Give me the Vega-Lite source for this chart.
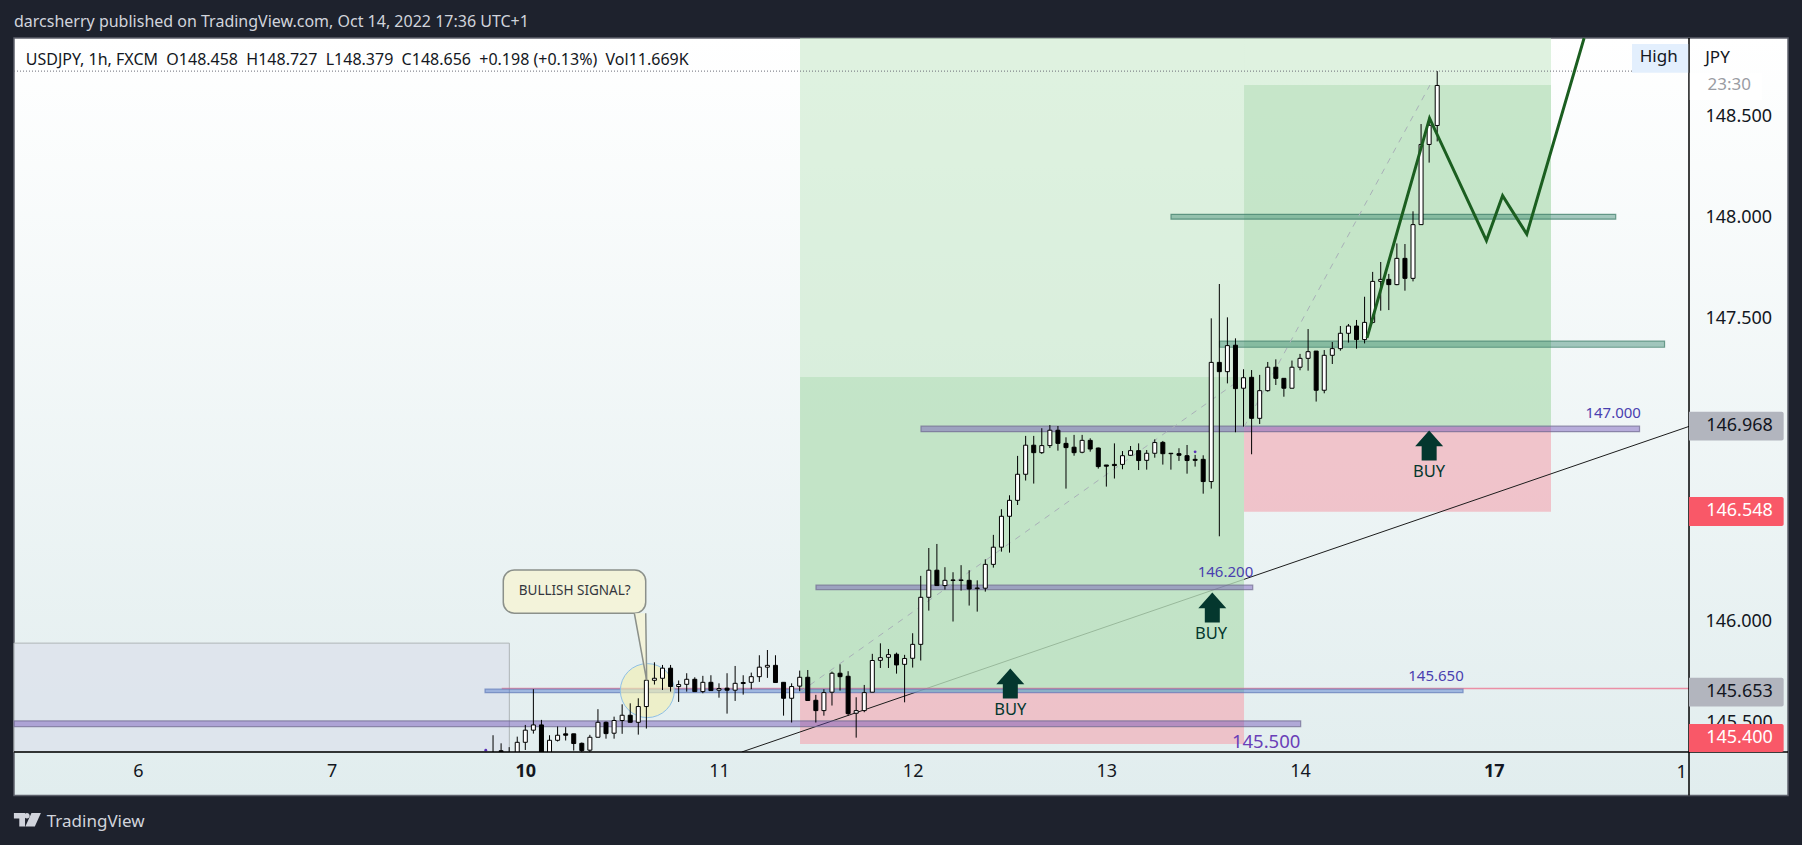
{
  "$schema": "https://vega.github.io/schema/vega-lite/v6.json",
  "width": 1675,
  "height": 714,
  "autosize": "none",
  "padding": {"left": 14, "top": 38, "right": 113, "bottom": 93},
  "background": "#1e222d",
  "config": {"font": "Noto Sans", "view": {"stroke": null}},
  "datasets": {
    "pane": [{"bar": -63.36, "bar2": 156.47, "price": 148.891, "price2": 145.141}],
    "old_range": [{"bar": -63.36, "bar2": -1.98, "price": 145.895, "price2": 145.356}],
    "stops": [
      {"bar": 34.04, "bar2": 89.06, "price": 145.653, "price2": 145.396},
      {"bar": 89.06, "bar2": 127.1, "price": 146.965, "price2": 146.545}
    ],
    "trend": [{"bar": 26.82, "price": 145.356}, {"bar": 144.2, "price": 146.968}],
    "targets_far": [
      {"bar": 34.04, "bar2": 89.06, "price": 148.891, "price2": 147.213},
      {"bar": 89.06, "bar2": 127.1, "price": 148.891, "price2": 148.658}
    ],
    "targets": [
      {"bar": 34.04, "bar2": 89.06, "price": 147.213, "price2": 145.653},
      {"bar": 89.06, "bar2": 127.1, "price": 148.658, "price2": 146.965}
    ],
    "price_lines": [{"bar": -2.92, "bar2": 144.2, "price": 145.67}],
    "levels": [
      {"kind": "blue", "bar": -4.99, "bar2": 116.2, "price": 145.667, "price2": 145.65},
      {"kind": "purple", "bar": -63.36, "bar2": 96.08, "price": 145.51, "price2": 145.482},
      {"kind": "purple", "bar": 36.02, "bar2": 90.14, "price": 146.182, "price2": 146.16},
      {"kind": "purple", "bar": 49.03, "bar2": 138.07, "price": 146.969, "price2": 146.942},
      {"kind": "teal", "bar": 80.01, "bar2": 135.12, "price": 148.018, "price2": 147.994},
      {"kind": "teal", "bar": 86.03, "bar2": 141.17, "price": 147.39, "price2": 147.36}
    ],
    "high_line": [{"bar": -63.36, "bar2": 137.14, "price": 148.727}],
    "diagonals": [
      {"id": "a", "bar": 34.04, "price": 145.653},
      {"id": "a", "bar": 89.06, "price": 147.213},
      {"id": "b", "bar": 89.06, "price": 146.965},
      {"id": "b", "bar": 112.1, "price": 148.658}
    ],
    "signal": [{"bar": 15.12, "price": 145.66}],
    "forecast": [
      {"bar": 104.3, "price": 147.406},
      {"bar": 112.05, "price": 148.494},
      {"bar": 119.1, "price": 147.888},
      {"bar": 121.1, "price": 148.11},
      {"bar": 124.1, "price": 147.92},
      {"bar": 131.2, "price": 148.89}
    ],
    "callout": [{"bar": -2.73, "bar2": 14.92, "price": 146.257, "price2": 146.043}],
    "callout_tail": [
      {"n": 1, "bar": 13.51, "price": 146.043},
      {"n": 2, "bar": 15.04, "price": 145.709},
      {"n": 3, "bar": 14.92, "price": 146.043}
    ],
    "buy_arrows": [
      {"bar": 60.1, "price": 145.695},
      {"bar": 85.13, "price": 146.072},
      {"bar": 112.0, "price": 146.874}
    ],
    "buy_labels": [
      {"bar": 60.1, "price": 145.564, "text": "BUY"},
      {"bar": 84.97, "price": 145.941, "text": "BUY"},
      {"bar": 112.0, "price": 146.743, "text": "BUY"}
    ],
    "level_labels": [
      {"bar": 86.76, "price": 146.249, "text": "146.200"},
      {"bar": 112.85, "price": 145.733, "text": "145.650"},
      {"bar": 134.8, "price": 147.036, "text": "147.000"}
    ],
    "purple_dots": [{"bar": -4.9, "price": 145.365}, {"bar": 83.0, "price": 146.842}],
    "candles": [
      {"bar": -4, "price": 145.439, "price2": 145.3, "open": 145.32, "close": 145.34},
      {"bar": -3, "price": 145.399, "price2": 145.3, "open": 145.362, "close": 145.358},
      {"bar": -2, "price": 145.38, "price2": 145.3, "open": 145.33, "close": 145.34},
      {"bar": -1, "price": 145.432, "price2": 145.3, "open": 145.33, "close": 145.404},
      {"bar": 0, "price": 145.49, "price2": 145.366, "open": 145.404, "close": 145.464},
      {"bar": 1, "price": 145.667, "price2": 145.447, "open": 145.464, "close": 145.49},
      {"bar": 2, "price": 145.515, "price2": 145.3, "open": 145.49, "close": 145.33},
      {"bar": 3, "price": 145.439, "price2": 145.3, "open": 145.33, "close": 145.414},
      {"bar": 4, "price": 145.482, "price2": 145.408, "open": 145.414, "close": 145.439},
      {"bar": 5, "price": 145.479, "price2": 145.413, "open": 145.446, "close": 145.439},
      {"bar": 6, "price": 145.446, "price2": 145.363, "open": 145.446, "close": 145.398},
      {"bar": 7, "price": 145.403, "price2": 145.34, "open": 145.399, "close": 145.363},
      {"bar": 8, "price": 145.441, "price2": 145.34, "open": 145.365, "close": 145.429},
      {"bar": 9, "price": 145.568, "price2": 145.429, "open": 145.429, "close": 145.503},
      {"bar": 10, "price": 145.507, "price2": 145.422, "open": 145.503, "close": 145.447},
      {"bar": 11, "price": 145.531, "price2": 145.422, "open": 145.449, "close": 145.512},
      {"bar": 12, "price": 145.592, "price2": 145.446, "open": 145.512, "close": 145.538},
      {"bar": 13, "price": 145.597, "price2": 145.503, "open": 145.538, "close": 145.503},
      {"bar": 14, "price": 145.622, "price2": 145.442, "open": 145.503, "close": 145.581},
      {"bar": 15, "price": 145.759, "price2": 145.472, "open": 145.581, "close": 145.711},
      {"bar": 16, "price": 145.8, "price2": 145.69, "open": 145.711, "close": 145.721},
      {"bar": 17, "price": 145.787, "price2": 145.663, "open": 145.721, "close": 145.771},
      {"bar": 18, "price": 145.787, "price2": 145.655, "open": 145.771, "close": 145.68},
      {"bar": 19, "price": 145.71, "price2": 145.604, "open": 145.68, "close": 145.69},
      {"bar": 20, "price": 145.746, "price2": 145.655, "open": 145.691, "close": 145.716},
      {"bar": 21, "price": 145.726, "price2": 145.655, "open": 145.716, "close": 145.655},
      {"bar": 22, "price": 145.733, "price2": 145.647, "open": 145.655, "close": 145.701},
      {"bar": 23, "price": 145.736, "price2": 145.66, "open": 145.701, "close": 145.66},
      {"bar": 24, "price": 145.696, "price2": 145.625, "open": 145.662, "close": 145.67},
      {"bar": 25, "price": 145.746, "price2": 145.546, "open": 145.672, "close": 145.662},
      {"bar": 26, "price": 145.782, "price2": 145.609, "open": 145.662, "close": 145.696},
      {"bar": 27, "price": 145.736, "price2": 145.64, "open": 145.7, "close": 145.695},
      {"bar": 28, "price": 145.749, "price2": 145.667, "open": 145.701, "close": 145.729},
      {"bar": 29, "price": 145.835, "price2": 145.703, "open": 145.729, "close": 145.776},
      {"bar": 30, "price": 145.861, "price2": 145.723, "open": 145.776, "close": 145.785},
      {"bar": 31, "price": 145.835, "price2": 145.7, "open": 145.785, "close": 145.7},
      {"bar": 32, "price": 145.701, "price2": 145.536, "open": 145.701, "close": 145.622},
      {"bar": 33, "price": 145.696, "price2": 145.502, "open": 145.622, "close": 145.68},
      {"bar": 34, "price": 145.759, "price2": 145.657, "open": 145.682, "close": 145.726},
      {"bar": 35, "price": 145.762, "price2": 145.611, "open": 145.726, "close": 145.611},
      {"bar": 36, "price": 145.639, "price2": 145.502, "open": 145.612, "close": 145.561},
      {"bar": 37, "price": 145.667, "price2": 145.536, "open": 145.561, "close": 145.65},
      {"bar": 38, "price": 145.754, "price2": 145.586, "open": 145.652, "close": 145.746},
      {"bar": 39, "price": 145.79, "price2": 145.66, "open": 145.746, "close": 145.729},
      {"bar": 40, "price": 145.756, "price2": 145.536, "open": 145.731, "close": 145.546},
      {"bar": 41, "price": 145.627, "price2": 145.427, "open": 145.548, "close": 145.561},
      {"bar": 42, "price": 145.688, "price2": 145.553, "open": 145.561, "close": 145.65},
      {"bar": 43, "price": 145.842, "price2": 145.652, "open": 145.652, "close": 145.809},
      {"bar": 44, "price": 145.894, "price2": 145.772, "open": 145.81, "close": 145.823},
      {"bar": 45, "price": 145.866, "price2": 145.772, "open": 145.825, "close": 145.838},
      {"bar": 46, "price": 145.848, "price2": 145.744, "open": 145.84, "close": 145.787},
      {"bar": 47, "price": 145.837, "price2": 145.602, "open": 145.79, "close": 145.819},
      {"bar": 48, "price": 145.944, "price2": 145.774, "open": 145.82, "close": 145.889},
      {"bar": 49, "price": 146.228, "price2": 145.809, "open": 145.889, "close": 146.122},
      {"bar": 50, "price": 146.366, "price2": 146.056, "open": 146.122, "close": 146.256},
      {"bar": 51, "price": 146.386, "price2": 146.18, "open": 146.256, "close": 146.18},
      {"bar": 52, "price": 146.271, "price2": 146.16, "open": 146.18, "close": 146.206},
      {"bar": 53, "price": 146.246, "price2": 146.002, "open": 146.205, "close": 146.208},
      {"bar": 54, "price": 146.281, "price2": 146.155, "open": 146.205, "close": 146.208},
      {"bar": 55, "price": 146.256, "price2": 146.081, "open": 146.206, "close": 146.163},
      {"bar": 56, "price": 146.206, "price2": 146.051, "open": 146.165, "close": 146.168},
      {"bar": 57, "price": 146.31, "price2": 146.15, "open": 146.167, "close": 146.285},
      {"bar": 58, "price": 146.431, "price2": 146.269, "open": 146.285, "close": 146.37},
      {"bar": 59, "price": 146.558, "price2": 146.348, "open": 146.37, "close": 146.523},
      {"bar": 60, "price": 146.627, "price2": 146.343, "open": 146.523, "close": 146.602},
      {"bar": 61, "price": 146.822, "price2": 146.579, "open": 146.602, "close": 146.731},
      {"bar": 62, "price": 146.921, "price2": 146.7, "open": 146.731, "close": 146.875},
      {"bar": 63, "price": 146.921, "price2": 146.685, "open": 146.875, "close": 146.838},
      {"bar": 64, "price": 146.959, "price2": 146.832, "open": 146.838, "close": 146.873},
      {"bar": 65, "price": 146.975, "price2": 146.861, "open": 146.873, "close": 146.949},
      {"bar": 66, "price": 146.97, "price2": 146.848, "open": 146.949, "close": 146.884},
      {"bar": 67, "price": 146.914, "price2": 146.66, "open": 146.884, "close": 146.863},
      {"bar": 68, "price": 146.926, "price2": 146.823, "open": 146.865, "close": 146.838},
      {"bar": 69, "price": 146.926, "price2": 146.835, "open": 146.84, "close": 146.899},
      {"bar": 70, "price": 146.909, "price2": 146.843, "open": 146.899, "close": 146.856},
      {"bar": 71, "price": 146.863, "price2": 146.759, "open": 146.861, "close": 146.769},
      {"bar": 72, "price": 146.777, "price2": 146.67, "open": 146.777, "close": 146.771},
      {"bar": 73, "price": 146.884, "price2": 146.71, "open": 146.78, "close": 146.774},
      {"bar": 74, "price": 146.846, "price2": 146.756, "open": 146.78, "close": 146.823},
      {"bar": 75, "price": 146.871, "price2": 146.822, "open": 146.825, "close": 146.848},
      {"bar": 76, "price": 146.884, "price2": 146.752, "open": 146.848, "close": 146.799},
      {"bar": 77, "price": 146.851, "price2": 146.754, "open": 146.8, "close": 146.835},
      {"bar": 78, "price": 146.904, "price2": 146.813, "open": 146.835, "close": 146.888},
      {"bar": 79, "price": 146.896, "price2": 146.779, "open": 146.889, "close": 146.833},
      {"bar": 80, "price": 146.835, "price2": 146.754, "open": 146.835, "close": 146.833},
      {"bar": 81, "price": 146.86, "price2": 146.797, "open": 146.833, "close": 146.825},
      {"bar": 82, "price": 146.876, "price2": 146.734, "open": 146.823, "close": 146.799},
      {"bar": 83, "price": 146.827, "price2": 146.769, "open": 146.805, "close": 146.8},
      {"bar": 84, "price": 146.825, "price2": 146.635, "open": 146.805, "close": 146.695},
      {"bar": 85, "price": 147.503, "price2": 146.66, "open": 146.695, "close": 147.285},
      {"bar": 86, "price": 147.673, "price2": 146.424, "open": 147.285, "close": 147.239},
      {"bar": 87, "price": 147.508, "price2": 147.181, "open": 147.239, "close": 147.368},
      {"bar": 88, "price": 147.404, "price2": 146.939, "open": 147.37, "close": 147.155},
      {"bar": 89, "price": 147.251, "price2": 146.967, "open": 147.157, "close": 147.209},
      {"bar": 90, "price": 147.247, "price2": 146.83, "open": 147.211, "close": 147.008},
      {"bar": 91, "price": 147.223, "price2": 146.98, "open": 147.008, "close": 147.145},
      {"bar": 92, "price": 147.287, "price2": 147.14, "open": 147.145, "close": 147.261},
      {"bar": 93, "price": 147.3, "price2": 147.173, "open": 147.261, "close": 147.206},
      {"bar": 94, "price": 147.206, "price2": 147.115, "open": 147.206, "close": 147.157},
      {"bar": 95, "price": 147.294, "price2": 147.157, "open": 147.157, "close": 147.261},
      {"bar": 96, "price": 147.327, "price2": 147.246, "open": 147.261, "close": 147.305},
      {"bar": 97, "price": 147.45, "price2": 147.244, "open": 147.305, "close": 147.338},
      {"bar": 98, "price": 147.341, "price2": 147.091, "open": 147.341, "close": 147.147},
      {"bar": 99, "price": 147.346, "price2": 147.132, "open": 147.147, "close": 147.32},
      {"bar": 100, "price": 147.386, "price2": 147.277, "open": 147.32, "close": 147.353},
      {"bar": 101, "price": 147.465, "price2": 147.343, "open": 147.353, "close": 147.429},
      {"bar": 102, "price": 147.475, "price2": 147.383, "open": 147.429, "close": 147.465},
      {"bar": 103, "price": 147.495, "price2": 147.353, "open": 147.465, "close": 147.398},
      {"bar": 104, "price": 147.61, "price2": 147.379, "open": 147.398, "close": 147.483},
      {"bar": 105, "price": 147.733, "price2": 147.478, "open": 147.483, "close": 147.686},
      {"bar": 106, "price": 147.782, "price2": 147.541, "open": 147.686, "close": 147.696},
      {"bar": 107, "price": 147.723, "price2": 147.544, "open": 147.696, "close": 147.67},
      {"bar": 108, "price": 147.874, "price2": 147.667, "open": 147.67, "close": 147.8},
      {"bar": 109, "price": 147.871, "price2": 147.64, "open": 147.8, "close": 147.701},
      {"bar": 110, "price": 148.033, "price2": 147.686, "open": 147.701, "close": 147.967},
      {"bar": 111, "price": 148.465, "price2": 147.967, "open": 147.967, "close": 148.364},
      {"bar": 112, "price": 148.498, "price2": 148.274, "open": 148.364, "close": 148.459},
      {"bar": 113, "price": 148.727, "price2": 148.379, "open": 148.458, "close": 148.656}
    ],
    "tags_gray": [
      {"bar": 144.2, "bar2": 155.93, "price": 147.04, "price2": 146.898},
      {"bar": 144.2, "bar2": 155.93, "price": 145.723, "price2": 145.581}
    ],
    "tags_red": [
      {"bar": 144.2, "bar2": 155.93, "price": 146.619, "price2": 146.475},
      {"bar": 144.2, "bar2": 155.93, "price": 145.495, "price2": 145.356}
    ],
    "tag_text_gray": [
      {"bar": 150.46, "price": 146.968, "text": "146.968"},
      {"bar": 150.46, "price": 145.653, "text": "145.653"}
    ],
    "tag_text_red": [
      {"bar": 150.46, "price": 146.55, "text": "146.548"},
      {"bar": 150.46, "price": 145.427, "text": "145.400"}
    ],
    "covered_ticks": [
      {"bar": 150.46, "price": 146.5, "text": "146.500"},
      {"bar": 150.46, "price": 145.5, "text": "145.500"}
    ]
  },
  "encoding": {
    "x": {
      "field": "bar",
      "type": "quantitative",
      "scale": {"domain": [-63.36, 144.2], "nice": false, "zero": false, "padding": 0},
      "axis": {
        "title": null,
        "orient": "bottom",
        "values": [-48, -24, 0, 24, 48, 72, 96, 120],
        "labelExpr": "['6','7','10','11','12','13','14','17'][(datum.value+48)/24]",
        "labelFontSize": 18,
        "labelColor": "#131722",
        "labelPadding": 10,
        "labelFontWeight": {"condition": {"test": "datum.value == 0 || datum.value == 120", "value": "bold"}, "value": "normal"},
        "labelOverlap": false,
        "grid": false,
        "ticks": false,
        "domain": false,
        "zindex": 1
      }
    },
    "y": {
      "field": "price",
      "type": "quantitative",
      "scale": {"domain": [145.356, 148.891], "nice": false, "zero": false},
      "axis": {
        "title": null,
        "orient": "right",
        "values": [146, 147.5, 148, 148.5],
        "format": ".3f",
        "labelFontSize": 18,
        "labelColor": "#131722",
        "labelPadding": 16,
        "grid": false,
        "ticks": false,
        "domain": false,
        "zindex": 1
      }
    }
  },
  "layer": [
    {
      "data": {"name": "pane"},
      "mark": {
        "type": "rect",
        "fill": {"gradient": "linear", "x1": 0, "y1": 0, "x2": 0, "y2": 1, "stops": [{"offset": 0, "color": "#ffffff"}, {"offset": 1, "color": "#e1edee"}]},
        "stroke": "#5d606b",
        "strokeWidth": 1.5
      },
      "encoding": {"x2": {"field": "bar2"}, "y2": {"field": "price2"}}
    },
    {
      "data": {"name": "old_range"},
      "mark": {"type": "rect", "fill": "#dde3ec", "fillOpacity": 0.85, "stroke": "#aeb4b6", "strokeWidth": 1},
      "encoding": {"x2": {"field": "bar2"}, "y2": {"field": "price2"}}
    },
    {
      "data": {"name": "stops"},
      "mark": {"type": "rect", "fill": "#f0b3bc", "fillOpacity": 0.75},
      "encoding": {"x2": {"field": "bar2"}, "y2": {"field": "price2"}}
    },
    {
      "data": {"name": "trend"},
      "mark": {"type": "line", "stroke": "#1c1c1c", "strokeWidth": 1, "clip": true}
    },
    {
      "data": {"name": "targets_far"},
      "mark": {"type": "rect", "fill": "#c4e8c6", "fillOpacity": 0.55},
      "encoding": {"x2": {"field": "bar2"}, "y2": {"field": "price2"}}
    },
    {
      "data": {"name": "targets"},
      "mark": {"type": "rect", "fill": "#b8e0bc", "fillOpacity": 0.8},
      "encoding": {"x2": {"field": "bar2"}, "y2": {"field": "price2"}}
    },
    {
      "data": {"name": "price_lines"},
      "mark": {"type": "rule", "stroke": "#ec6f8c", "strokeOpacity": 0.75, "strokeWidth": 1.5},
      "encoding": {"x2": {"field": "bar2"}}
    },
    {
      "data": {"name": "levels"},
      "mark": {"type": "rect", "fillOpacity": 0.42, "strokeOpacity": 0.7, "strokeWidth": 1.2},
      "encoding": {
        "x2": {"field": "bar2"},
        "y2": {"field": "price2"},
        "fill": {"field": "kind", "type": "nominal", "legend": null, "scale": {"domain": ["blue", "purple", "teal"], "range": ["#3f68c8", "#6a48b4", "#2f8068"]}},
        "stroke": {"field": "kind", "type": "nominal", "legend": null, "scale": {"domain": ["blue", "purple", "teal"], "range": ["#5f79b8", "#6f6a90", "#3d7c68"]}}
      }
    },
    {
      "data": {"name": "high_line"},
      "mark": {"type": "rule", "stroke": "#6a6d78", "strokeWidth": 1, "strokeDash": [1, 2]},
      "encoding": {"x2": {"field": "bar2"}}
    },
    {
      "data": {"name": "diagonals"},
      "mark": {"type": "line", "stroke": "#a9b0b8", "strokeWidth": 1, "strokeDash": [6, 6]},
      "encoding": {"detail": {"field": "id"}}
    },
    {
      "data": {"name": "signal"},
      "mark": {"type": "point", "shape": "circle", "size": 2916, "filled": true, "fill": "#f1eeb4", "fillOpacity": 0.65, "stroke": "#8fc0e6", "strokeOpacity": 1, "strokeWidth": 1}
    },
    {
      "data": {"name": "candles"},
      "mark": {"type": "rule", "stroke": "#000000", "strokeWidth": 1, "clip": true},
      "encoding": {"y2": {"field": "price2"}}
    },
    {
      "data": {"name": "candles"},
      "mark": {"type": "bar", "width": 4, "stroke": "#000000", "strokeWidth": 1, "clip": true},
      "encoding": {
        "y": {"field": "open", "type": "quantitative", "scale": {"domain": [145.356, 148.891], "nice": false, "zero": false}},
        "y2": {"field": "close"},
        "fill": {"condition": {"test": "datum.close >= datum.open", "value": "#ffffff"}, "value": "#000000"}
      }
    },
    {
      "data": {"name": "purple_dots"},
      "mark": {"type": "point", "filled": true, "color": "#5b30b8", "size": 8, "opacity": 1}
    },
    {
      "data": {"name": "forecast"},
      "mark": {"type": "line", "stroke": "#1b5e20", "strokeWidth": 3}
    },
    {
      "data": {"name": "callout"},
      "mark": {"type": "rect", "fill": "#f3f3da", "stroke": "#8b908a", "strokeWidth": 1.5, "cornerRadius": 11},
      "encoding": {"x2": {"field": "bar2"}, "y2": {"field": "price2"}}
    },
    {
      "data": {"name": "callout_tail"},
      "mark": {"type": "line", "fill": "#f3f3da", "stroke": "#8b908a", "strokeWidth": 1.5},
      "encoding": {"order": {"field": "n"}}
    },
    {
      "data": {"values": [{"bar": 6.12, "price": 146.155, "text": "BULLISH SIGNAL?"}]},
      "mark": {"type": "text", "fontSize": 13.5, "color": "#33363d"},
      "encoding": {"text": {"field": "text"}}
    },
    {
      "data": {"name": "buy_arrows"},
      "mark": {
        "type": "point",
        "shape": "M0,-1L0.933,0.05L0.5,0.05L0.5,1L-0.5,1L-0.5,0.05L-0.933,0.05Z",
        "size": 900,
        "filled": true,
        "color": "#04372e",
        "opacity": 1
      }
    },
    {
      "data": {"name": "buy_labels"},
      "mark": {"type": "text", "fontSize": 16.5, "color": "#04372e"},
      "encoding": {"text": {"field": "text"}}
    },
    {
      "data": {"name": "level_labels"},
      "mark": {"type": "text", "fontSize": 15, "color": "#4a3fb0"},
      "encoding": {"text": {"field": "text"}}
    },
    {
      "data": {"values": [{"bar": 91.8, "price": 145.406, "text": "145.500"}]},
      "mark": {"type": "text", "fontSize": 18.5, "color": "#6a3fb8"},
      "encoding": {"text": {"field": "text"}}
    },
    {
      "data": {"values": [{"bar": -63.36, "price": 148.972, "text": "darcsherry published on TradingView.com, Oct 14, 2022 17:36 UTC+1"}]},
      "mark": {"type": "text", "align": "left", "fontSize": 16, "color": "#d1d4dc"},
      "encoding": {"text": {"field": "text"}}
    },
    {
      "data": {"values": [{"bar": -61.9, "price": 148.782, "text": "USDJPY, 1h, FXCM\u00a0\u00a0O148.458\u00a0\u00a0H148.727\u00a0\u00a0L148.379\u00a0\u00a0C148.656\u00a0\u00a0+0.198 (+0.13%)\u00a0\u00a0Vol11.669K"}]},
      "mark": {"type": "text", "align": "left", "fontSize": 16, "color": "#131722"},
      "encoding": {"text": {"field": "text"}}
    },
    {
      "data": {"values": [{"bar": -61.7, "price": 145.02}]},
      "mark": {
        "type": "point",
        "shape": "M-1,-.5H-.175V.5H-.6V-.1H-1ZM.17,-.3a.2,.2 0 1,1 -.4,0a.2,.2 0 1,1 .4,0ZM.3,-.5H1L.55,.5H-.15Z",
        "size": 729,
        "filled": true,
        "color": "#d1d4dc",
        "opacity": 1
      }
    },
    {
      "data": {"values": [{"bar": -59.3, "price": 145.011, "text": "TradingView"}]},
      "mark": {"type": "text", "align": "left", "fontSize": 17, "color": "#d1d4dc"},
      "encoding": {"text": {"field": "text"}}
    },
    {
      "data": {"values": [{"bar": 143.3, "price": 145.252, "text": "1"}]},
      "mark": {"type": "text", "fontSize": 18, "color": "#131722"},
      "encoding": {"text": {"field": "text"}}
    },
    {
      "data": {"values": [{"bar": 144.2, "price": 148.891, "price2": 145.141}]},
      "mark": {"type": "rule", "stroke": "#000000", "strokeWidth": 1.5},
      "encoding": {"y2": {"field": "price2"}}
    },
    {
      "data": {"values": [{"bar": -63.36, "bar2": 156.47, "price": 145.356}]},
      "mark": {"type": "rule", "stroke": "#000000", "strokeWidth": 1.5},
      "encoding": {"x2": {"field": "bar2"}}
    },
    {
      "data": {"values": [{"bar": 137.14, "bar2": 144.1, "price": 148.861, "price2": 148.719}]},
      "mark": {"type": "rect", "fill": "#e3effd"},
      "encoding": {"x2": {"field": "bar2"}, "y2": {"field": "price2"}}
    },
    {
      "data": {"values": [{"bar": 144.3, "bar2": 153.24, "price": 148.719, "price2": 148.584}]},
      "mark": {"type": "rect", "fill": "#ffffff"},
      "encoding": {"x2": {"field": "bar2"}, "y2": {"field": "price2"}}
    },
    {
      "data": {"values": [{"bar": 140.44, "price": 148.799, "text": "High"}, {"bar": 147.73, "price": 148.792, "text": "JPY"}]},
      "mark": {"type": "text", "fontSize": 17, "color": "#131722"},
      "encoding": {"text": {"field": "text"}}
    },
    {
      "data": {"values": [{"bar": 149.18, "price": 148.658, "text": "23:30"}]},
      "mark": {"type": "text", "fontSize": 17, "color": "#9a9ca3"},
      "encoding": {"text": {"field": "text"}}
    },
    {
      "data": {"name": "covered_ticks"},
      "mark": {"type": "text", "fontSize": 18, "color": "#131722"},
      "encoding": {"text": {"field": "text"}}
    },
    {
      "data": {"name": "tags_gray"},
      "mark": {"type": "rect", "fill": "#b2b5be", "cornerRadiusTopRight": 2, "cornerRadiusBottomRight": 2},
      "encoding": {"x2": {"field": "bar2"}, "y2": {"field": "price2"}}
    },
    {
      "data": {"name": "tags_red"},
      "mark": {"type": "rect", "fill": "#f95868", "cornerRadiusTopRight": 2, "cornerRadiusBottomRight": 2},
      "encoding": {"x2": {"field": "bar2"}, "y2": {"field": "price2"}}
    },
    {
      "data": {"name": "tag_text_gray"},
      "mark": {"type": "text", "fontSize": 18, "color": "#131722"},
      "encoding": {"text": {"field": "text"}}
    },
    {
      "data": {"name": "tag_text_red"},
      "mark": {"type": "text", "fontSize": 18, "color": "#ffffff"},
      "encoding": {"text": {"field": "text"}}
    }
  ]
}
